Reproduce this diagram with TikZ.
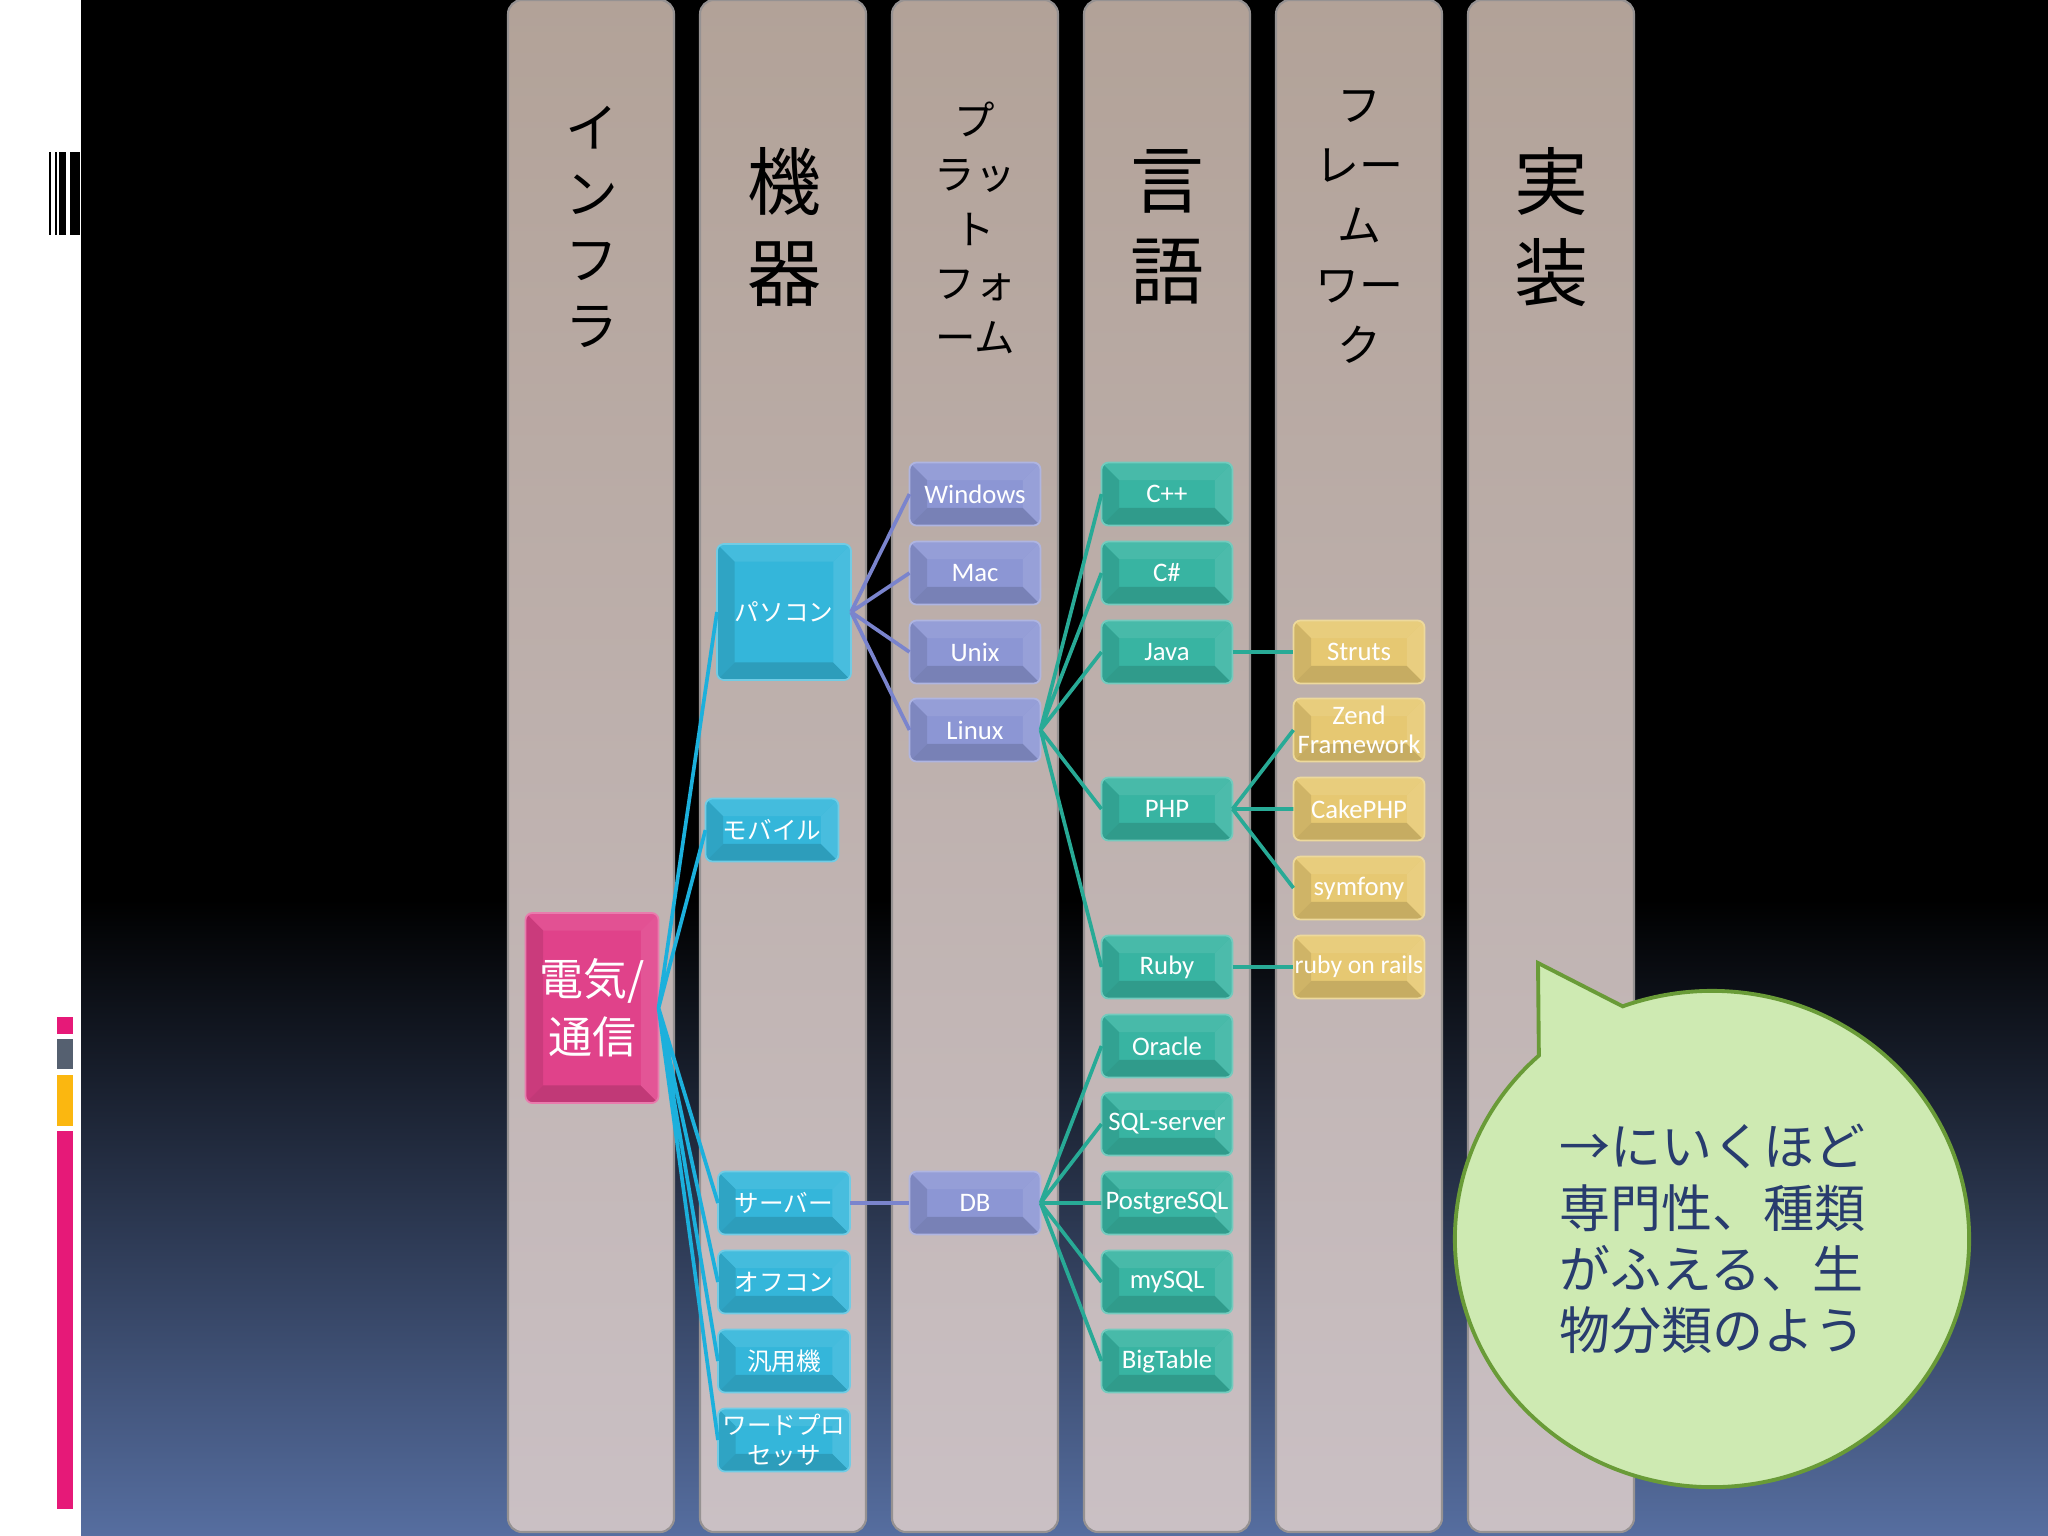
\documentclass[tikz,border=0pt]{standalone}
\usepackage{fontspec}
\setmainfont{Carlito}
\newfontfamily\jp{Noto Sans CJK JP}
\usepackage{xcolor}
\usepackage{tikz}
\usetikzlibrary{shapes.geometric,shapes.callouts}

\definecolor{bgblue}{RGB}{86,110,160}
\definecolor{coltop}{RGB}{178,162,152}
\definecolor{colbot}{RGB}{202,192,196}
\definecolor{coledge}{RGB}{150,146,146}
\definecolor{pinkbox}{RGB}{224,66,138}
\definecolor{cyanbox}{RGB}{52,182,218}
\definecolor{lavbox}{RGB}{140,150,212}
\definecolor{tealbox}{RGB}{56,180,162}
\definecolor{yelbox}{RGB}{230,200,114}
\definecolor{cyanline}{RGB}{28,176,220}
\definecolor{lavline}{RGB}{122,132,205}
\definecolor{tealline}{RGB}{40,170,150}
\definecolor{bubblefill}{RGB}{206,234,178}
\definecolor{bubbleline}{RGB}{105,155,55}
\definecolor{bubbletext}{RGB}{40,60,110}
\definecolor{barpink}{RGB}{230,25,120}
\definecolor{bargray}{RGB}{85,96,112}
\definecolor{barorange}{RGB}{251,183,16}

\newcommand\boxfont{\fontsize{7.6}{8.2}\selectfont}
\newcommand\jpbox{\jp\fontsize{7}{8.6}\selectfont}

\tikzset{
  bevelbox/.style={rounded corners=2pt, fill=#1, draw=#1!70!white, line width=.5pt,
    minimum width=1.31cm, minimum height=.63cm, inner sep=1pt, outer sep=0pt,
    text=white, font=\boxfont, align=center,
    path picture={
      \coordinate (p1) at (path picture bounding box.north west);
      \coordinate (p2) at (path picture bounding box.south east);
      \coordinate (q1) at ([shift={(5pt,-5pt)}]p1);
      \coordinate (q2) at ([shift={(-5pt,5pt)}]p2);
      \fill[sharp corners,#1!92!white] (p1) -- (p1-|p2) -- (q1-|q2) -- (q1) -- cycle; % top
      \fill[sharp corners,#1!90!black] (p1) -- (q1) -- (q1|-q2) -- (p1|-p2) -- cycle; % left
      \fill[sharp corners,#1!86!black] (p1|-p2) -- (q1|-q2) -- (q2) -- (p2) -- cycle; % bottom
      \fill[sharp corners,#1!90!white] (p2) -- (q2) -- (q1-|q2) -- (p1-|p2) -- cycle; % right
    }},
  colband/.style={top color=coltop, bottom color=colbot, draw=coledge,
    line width=.6pt, rounded corners=4pt},
  head/.style={align=center, inner sep=0pt, text=black},
  link/.style={line width=1.05pt, #1}
}

\begin{document}
\begin{tikzpicture}[x=0.01cm, y=-0.01cm]
  \useasboundingbox (0,0) rectangle (2048,1536);

  % Background
  \fill[white] (0,0) rectangle (81,1536);
  \fill[black] (81,0) rectangle (2048,900);
  \shade[top color=black, bottom color=bgblue] (81,900) rectangle (2048,1536);

  % Bars on the left
  \fill[black] (49,152) rectangle (51,235);
  \fill[black] (55,152) rectangle (57,235);
  \fill[black] (59,152) rectangle (66,235);
  \fill[black] (70,152) rectangle (80,235);
  \fill[barpink] (57,1017) rectangle (73,1034);
  \fill[bargray] (57,1039) rectangle (73,1069);
  \fill[barorange] (57,1075) rectangle (73,1126);
  \fill[barpink] (57,1131) rectangle (73,1509);

  % Columns
  \shade[colband] (508,0) rectangle (674,1532);
  \shade[colband] (700,0) rectangle (866,1532);
  \shade[colband] (892,0) rectangle (1058,1532);
  \shade[colband] (1084,0) rectangle (1250,1532);
  \shade[colband] (1276,0) rectangle (1442,1532);
  \shade[colband] (1468,0) rectangle (1634,1532);

  % Column headings
  \node[head, font=\jp\fontsize{15}{18.8}\selectfont] (infra) at (592,227) {イ\\ン\\フ\\ラ};
  \node[head, font=\jp\fontsize{21}{25.9}\selectfont] (kiki) at (784,227) {機\\器};
  \node[head, font=\jp\fontsize{11.5}{15.4}\selectfont] (platform) at (975,228) {プ\\ラッ\\ト\\フォ\\ーム};
  \node[head, font=\jp\fontsize{21}{25.9}\selectfont] (gengo) at (1167,227) {言\\語};
  \node[head, font=\jp\fontsize{12.5}{17}\selectfont] (framework) at (1359,227) {フ\\レー\\ム\\ワー\\ク};
  \node[head, font=\jp\fontsize{21}{25.9}\selectfont] (jisso) at (1551,227) {実\\装};

  % Infrastructure
  \node[bevelbox=pinkbox, minimum width=1.33cm, minimum height=1.9cm,
        font=\jp\fontsize{12.5}{16.5}\selectfont] (tsushin) at (592,1008) {電気/\\通信};

  % Devices
  \node[bevelbox=cyanbox, minimum width=1.34cm, minimum height=1.36cm, font=\jpbox] (pasokon) at (784,612) {パソコン};
  \node[bevelbox=cyanbox, minimum width=1.33cm, font=\jpbox] (mobile) at (772,830) {モバイル};
  \node[bevelbox=cyanbox, minimum width=1.32cm, font=\jpbox] (server) at (784,1203) {サーバー};
  \node[bevelbox=cyanbox, minimum width=1.32cm, font=\jpbox] (office) at (784,1282) {オフコン};
  \node[bevelbox=cyanbox, minimum width=1.32cm, font=\jpbox] (mainframe) at (784,1361) {汎用機};
  \node[bevelbox=cyanbox, minimum width=1.32cm, font=\jpbox] (wordpro) at (784,1440) {ワードプロ\\セッサ};

  % Platforms
  \node[bevelbox=lavbox] (windows) at (975,494) {Windows};
  \node[bevelbox=lavbox] (mac) at (975,573) {Mac};
  \node[bevelbox=lavbox] (unix) at (975,652) {Unix};
  \node[bevelbox=lavbox] (linux) at (975,730) {Linux};
  \node[bevelbox=lavbox] (db) at (975,1203) {DB};

  % Languages
  \node[bevelbox=tealbox] (cpp) at (1167,494) {C++};
  \node[bevelbox=tealbox] (csharp) at (1167,573) {C\#};
  \node[bevelbox=tealbox] (java) at (1167,652) {Java};
  \node[bevelbox=tealbox] (php) at (1167,809) {PHP};
  \node[bevelbox=tealbox] (ruby) at (1167,967) {Ruby};
  \node[bevelbox=tealbox] (oracle) at (1167,1046) {Oracle};
  \node[bevelbox=tealbox] (sqlserver) at (1167,1124) {SQL-server};
  \node[bevelbox=tealbox] (postgres) at (1167,1203) {PostgreSQL};
  \node[bevelbox=tealbox] (mysql) at (1167,1282) {mySQL};
  \node[bevelbox=tealbox] (bigtable) at (1167,1361) {BigTable};

  % Frameworks
  \node[bevelbox=yelbox] (struts) at (1359,652) {Struts};
  \node[bevelbox=yelbox] (zend) at (1359,730) {Zend\\Framework};
  \node[bevelbox=yelbox] (cake) at (1359,809) {CakePHP};
  \node[bevelbox=yelbox] (symfony) at (1359,888) {symfony};
  \node[bevelbox=yelbox, inner xsep=0pt, font=\fontsize{7.3}{8}\selectfont] (rails) at (1359,967) {ruby on rails};

  % Links
  \draw[link=cyanline] (tsushin.east) -- (pasokon.west) (tsushin.east) -- (mobile.west)
    (tsushin.east) -- (server.west) (tsushin.east) -- (office.west)
    (tsushin.east) -- (mainframe.west) (tsushin.east) -- (wordpro.west);
  \draw[link=lavline] (pasokon.east) -- (windows.west) (pasokon.east) -- (mac.west)
    (pasokon.east) -- (unix.west) (pasokon.east) -- (linux.west);
  \draw[link=lavline] (server.east) -- (db.west);
  \draw[link=tealline] (linux.east) -- (cpp.west) (linux.east) -- (csharp.west)
    (linux.east) -- (java.west) (linux.east) -- (php.west) (linux.east) -- (ruby.west);
  \draw[link=tealline] (db.east) -- (oracle.west) (db.east) -- (sqlserver.west)
    (db.east) -- (postgres.west) (db.east) -- (mysql.west) (db.east) -- (bigtable.west);
  \draw[link=tealline] (java.east) -- (struts.west);
  \draw[link=tealline] (php.east) -- (zend.west) (php.east) -- (cake.west) (php.east) -- (symfony.west);
  \draw[link=tealline] (ruby.east) -- (rails.west);

  % Speech bubble
  \node[ellipse callout, callout absolute pointer={(1538,963)}, callout pointer arc=22,
        draw=bubbleline, line width=1.1pt, fill=bubblefill,
        minimum width=5.14cm, minimum height=4.96cm, inner sep=0pt,
        align=left, text=bubbletext, font=\jp\fontsize{14.5}{17.4}\selectfont]
        (note) at (1712,1239) {→にいくほど\\専門性、種類\\がふえる、生\\物分類のよう};
\end{tikzpicture}
\end{document}
